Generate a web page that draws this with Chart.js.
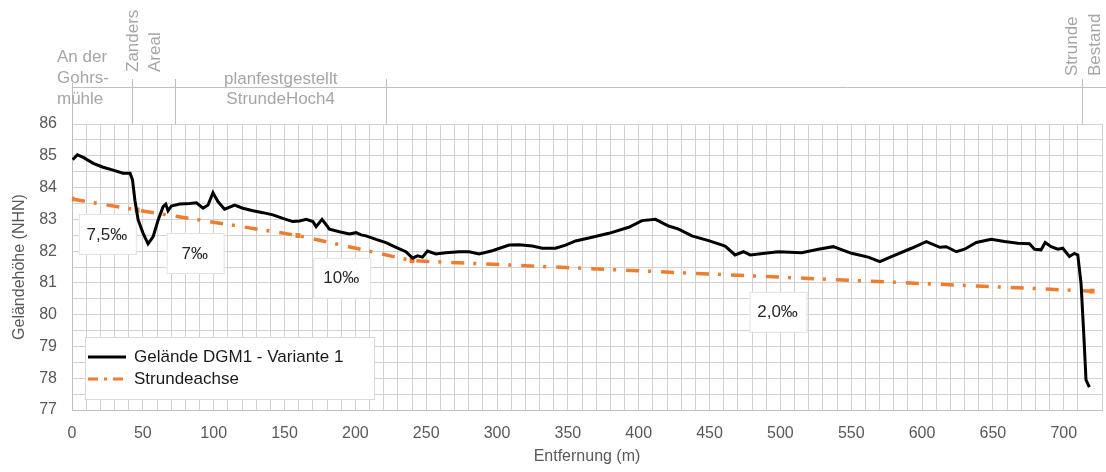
<!DOCTYPE html>
<html lang="de">
<head>
<meta charset="utf-8">
<title>Geländeprofil Strunde</title>
<script src="https://cdn.jsdelivr.net/npm/chart.js@4.4.1/dist/chart.umd.min.js"></script>
<style>
  html, body { margin: 0; padding: 0; background: #fff; }
  #wrap { width: 1106px; height: 472px; position: relative; }
</style>
</head>
<body>
<div id="wrap"><canvas id="profilChart"></canvas></div>
<script>
// Geländeprofil (DGM1 - Variante 1), Entfernung in m / Höhe in m NHN
const gelaendeM = [0.5, 3.8, 8, 15, 22, 29, 36, 41, 42.7, 44.4, 46.7, 50.2, 53.7, 57.3, 60.8, 64.3, 66.2, 67.8, 70.2, 76,
  83, 87.8, 92.5, 96, 99.5, 103, 107.7, 114.8, 120.6, 127.7, 134.7, 141.8, 148.8, 155.8, 160.6, 165.3, 170, 172.3, 176.5, 181.7,
  188.7, 195.8, 200.5, 204, 207.5, 214.6, 221.6, 228.7, 235.7, 240.4, 243.9, 247.4, 250.9, 256.8, 263.8, 273.2, 280.3, 287.3, 296.7, 308.5,
  315.5, 324.9, 331.9, 341.3, 348.4, 355.4, 364.8, 378.9, 393, 402.3, 411.8, 421.1, 428.2, 437.5, 449.3, 461, 468, 473.9, 478.7, 489.2,
  498.6, 515, 526.8, 537.3, 550.2, 562, 570.2, 578.4, 592.5, 603, 612.5, 617.1, 624.2, 630, 638.3, 648.8, 658.2, 667.6, 675.8, 679.4,
  684, 686.9, 691.1, 695.8, 699.3, 704, 707.5, 709.9, 712.2, 714.1, 715.7, 718.1];
const gelaendeH = [84.88, 85.03, 84.95, 84.76, 84.64, 84.55, 84.45, 84.45, 84.24, 83.6, 82.98, 82.56, 82.23, 82.46, 82.98, 83.4, 83.48, 83.27, 83.42, 83.48,
  83.5, 83.52, 83.35, 83.45, 83.84, 83.56, 83.32, 83.45, 83.35, 83.27, 83.21, 83.14, 83.03, 82.93, 82.95, 83.0, 82.93, 82.77, 83.0, 82.69,
  82.61, 82.54, 82.58, 82.51, 82.48, 82.37, 82.27, 82.12, 81.98, 81.78, 81.85, 81.81, 82.0, 81.91, 81.95, 81.98, 81.98, 81.91, 82.01, 82.19,
  82.2, 82.16, 82.09, 82.09, 82.19, 82.32, 82.41, 82.56, 82.75, 82.96, 83.0, 82.79, 82.69, 82.48, 82.33, 82.16, 81.88, 81.98, 81.88, 81.93,
  81.98, 81.95, 82.06, 82.14, 81.93, 81.81, 81.67, 81.83, 82.09, 82.3, 82.12, 82.14, 81.98, 82.06, 82.27, 82.37, 82.3, 82.25, 82.23, 82.06,
  82.04, 82.27, 82.14, 82.06, 82.09, 81.83, 81.93, 81.88, 80.99, 79.42, 77.95, 77.72];

// Strundeachse (Knickpunkte)
const achseM = [0, 46, 159.5, 240, 720];
const achseH = [83.64, 83.29, 82.49, 81.70, 80.74];

// Gefälle-Beschriftungen
const gefaelleText = ['7,5‰', '7‰', '10‰', '2,0‰'];
const gefaelleM = [24.6, 86.6, 190, 498];
const gefaelleH = [82.54, 81.94, 81.16, 80.09];

// Abschnitte oben (Grenzen in m)
const abschnittGrenzen = [42.5, 73, 221.6, 712.7];

const FONT = "'Liberation Sans', Arial, sans-serif";
const GRAU = '#595959';

const profilDeko = {
  id: 'profilDeko',
  beforeDatasetsDraw(chart) {
    const { ctx, scales: { x, y } } = chart;
    ctx.save();
    ctx.font = '17px ' + FONT;
    ctx.textAlign = 'center';
    ctx.textBaseline = 'middle';
    gefaelleText.forEach((t, i) => {
      const px = x.getPixelForValue(gefaelleM[i]);
      const py = y.getPixelForValue(gefaelleH[i]);
      ctx.fillStyle = '#fff';
      ctx.fillRect(px - 28, py - 20, 57, 40);
      ctx.strokeStyle = '#E2E2E2';
      ctx.lineWidth = 1;
      ctx.strokeRect(px - 28 + 0.5, py - 20 + 0.5, 57, 40);
      ctx.fillStyle = '#262626';
      ctx.fillText(t, px, py + 1);
    });
    ctx.restore();
  },
  afterDraw(chart) {
    const { ctx, chartArea, scales: { x } } = chart;
    const top = chartArea.top;
    ctx.save();

    // Abschnittsband oben
    ctx.strokeStyle = '#BFBFBF';
    ctx.lineWidth = 1;
    ctx.beginPath();
    ctx.moveTo(chartArea.left, top - 37 + 0.5);
    ctx.lineTo(chart.width, top - 37 + 0.5);
    ctx.moveTo(chartArea.left + 0.5, top - 41);
    ctx.lineTo(chartArea.left + 0.5, top);
    abschnittGrenzen.forEach(m => {
      const px = Math.round(x.getPixelForValue(m)) + 0.5;
      ctx.moveTo(px, top - 45);
      ctx.lineTo(px, top);
    });
    ctx.stroke();

    ctx.fillStyle = '#A6A6A6';
    ctx.font = '17px ' + FONT;
    ctx.textBaseline = 'middle';
    ctx.textAlign = 'left';
    ['An der', 'Gohrs-', 'mühle'].forEach((t, i) => {
      ctx.fillText(t, chartArea.left - 15, top - 67 + i * 21);
    });
    ctx.textAlign = 'center';
    const mitte = (x.getPixelForValue(abschnittGrenzen[1]) + x.getPixelForValue(abschnittGrenzen[2])) / 2;
    ctx.fillText('planfestgestellt', mitte, top - 45);
    ctx.fillText('StrundeHoch4', mitte, top - 25);

    // senkrechte Beschriftungen
    const senkrecht = (t, m, yStart) => {
      ctx.save();
      ctx.translate(x.getPixelForValue(m), yStart);
      ctx.rotate(-Math.PI / 2);
      ctx.textAlign = 'left';
      ctx.fillText(t, 0, 0);
      ctx.restore();
    };
    senkrecht('Zanders', 43.6, top - 52);
    senkrecht('Areal', 58.5, top - 52);
    senkrecht('Strunde', 706.3, top - 48);
    senkrecht('Bestand', 722.5, top - 48);

    // Legende
    const lx = chartArea.left + 13, ly = chartArea.bottom - 73;
    ctx.fillStyle = '#fff';
    ctx.fillRect(lx, ly, 289, 62);
    ctx.strokeStyle = '#D9D9D9';
    ctx.strokeRect(lx + 0.5, ly + 0.5, 289, 62);
    ctx.lineWidth = 3;
    ctx.strokeStyle = '#000';
    ctx.beginPath();
    ctx.moveTo(lx + 3, ly + 20);
    ctx.lineTo(lx + 41, ly + 20);
    ctx.stroke();
    ctx.strokeStyle = '#ED7D31';
    ctx.setLineDash([10, 6, 3, 6]);
    ctx.beginPath();
    ctx.moveTo(lx + 3, ly + 42);
    ctx.lineTo(lx + 41, ly + 42);
    ctx.stroke();
    ctx.setLineDash([]);
    ctx.fillStyle = '#1a1a1a';
    ctx.textAlign = 'left';
    ctx.font = '17px ' + FONT;
    ctx.fillText('Gelände DGM1 - Variante 1', lx + 49, ly + 20);
    ctx.fillText('Strundeachse', lx + 49, ly + 42);
    ctx.restore();
  }
};

const ctx = document.getElementById('profilChart').getContext('2d');
new Chart(ctx, {
  type: 'line',
  data: {
    datasets: [{
      label: 'Gelände DGM1 - Variante 1',
      data: gelaendeM.map((m, i) => ({ x: m, y: gelaendeH[i] })),
      borderColor: '#000',
      borderWidth: 3,
      pointRadius: 0,
      tension: 0
    }, {
      label: 'Strundeachse',
      data: achseM.map((m, i) => ({ x: m, y: achseH[i] })),
      borderColor: '#ED7D31',
      backgroundColor: '#ED7D31',
      borderWidth: 3.5,
      borderDash: [13, 9, 3, 10],
      pointStyle: 'rect',
      pointRadius: 3.5,
      pointBorderWidth: 0,
      tension: 0
    }]
  },
  options: {
    responsive: true,
    maintainAspectRatio: false,
    animation: false,
    devicePixelRatio: 1,
    layout: { padding: { top: 124, right: 2, left: 0, bottom: 0 } },
    plugins: {
      legend: { display: false },
      tooltip: { enabled: false }
    },
    scales: {
      x: {
        type: 'linear',
        min: 0,
        max: 727,
        // feste Höhe, kein Randabstand für das letzte Label
        afterFit: s => { s.height = 62; s.paddingLeft = 0; s.paddingRight = 0; },
        ticks: {
          stepSize: 10,
          autoSkip: false,
          maxRotation: 0,
          padding: 14,
          color: GRAU,
          font: { size: 16, family: FONT },
          callback: v => (v % 50 === 0 ? v : '')
        },
        grid: { color: '#D2D2D2', drawTicks: false },
        border: { color: '#BFBFBF' },
        title: {
          display: true,
          text: 'Entfernung (m)',
          color: GRAU,
          font: { size: 16, family: FONT },
          padding: { top: 0, bottom: 6 }
        }
      },
      y: {
        min: 77,
        max: 86,
        afterFit: s => { s.width = 72; },
        ticks: {
          stepSize: 0.5,
          autoSkip: false,
          padding: 15,
          color: GRAU,
          font: { size: 16, family: FONT },
          callback: v => (Number.isInteger(v) ? v : '')
        },
        grid: { color: '#D2D2D2', drawTicks: false },
        border: { color: '#BFBFBF' },
        title: {
          display: true,
          text: 'Geländehöhe (NHN)',
          color: GRAU,
          font: { size: 16, family: FONT },
          padding: { top: 10, bottom: 0 }
        }
      }
    }
  },
  plugins: [profilDeko]
});
</script>
</body>
</html>
